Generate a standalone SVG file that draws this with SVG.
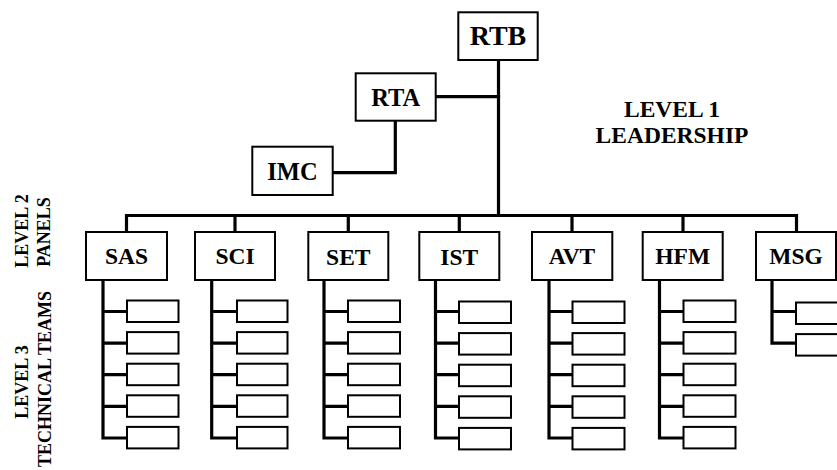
<svg xmlns="http://www.w3.org/2000/svg" width="837" height="470" viewBox="0 0 837 470">
<style>
.box{fill:#fff;stroke:#000;stroke-width:2}
.tb{fill:#fff;stroke:#000;stroke-width:2}
.ln{fill:none;stroke:#000;stroke-width:3.2;stroke-linejoin:miter;stroke-linecap:square}
text{font-family:"Liberation Serif","Times New Roman",serif;font-weight:bold;fill:#000;text-anchor:middle}
.lab{font-size:23.5px}
.side{font-size:18px}
</style>
<rect width="837" height="470" fill="#fff"/>
<g id="connectors">
<path class="ln" d="M498.5,60 V215.5"/>
<path class="ln" d="M435.7,96.7 H498.5"/>
<path class="ln" d="M332.7,172.7 H395.3 V120.7"/>
<path class="ln" d="M126.5,232 V215.5 H796.5 V232"/>
<path class="ln" d="M235,215.5 V232 M348.3,215.5 V232 M459.3,215.5 V232 M572,215.5 V232 M683,215.5 V232"/>
<path class="ln" d="M103,280 V438 H127 M103,311.5 H127 M103,343.1 H127 M103,374.7 H127 M103,406.3 H127"/>
<path class="ln" d="M211.7,280 V438 H237 M211.7,311.5 H237 M211.7,343.1 H237 M211.7,374.7 H237 M211.7,406.3 H237"/>
<path class="ln" d="M324,280 V438 H348 M324,311.5 H348 M324,343.1 H348 M324,374.7 H348 M324,406.3 H348"/>
<path class="ln" d="M435.5,280 V438 H459 M435.5,311.5 H459 M435.5,343.1 H459 M435.5,374.7 H459 M435.5,406.3 H459"/>
<path class="ln" d="M549,280 V438 H572.5 M549,311.5 H572.5 M549,343.1 H572.5 M549,374.7 H572.5 M549,406.3 H572.5"/>
<path class="ln" d="M659.5,280 V438 H683.5 M659.5,311.5 H683.5 M659.5,343.1 H683.5 M659.5,374.7 H683.5 M659.5,406.3 H683.5"/>
<path class="ln" d="M772,280 V343.1 H796 M772,311.5 H796"/>
</g>
<g id="RTB"><rect class="box" x="458.3" y="12.3" width="79.4" height="47.7"/><text x="498" y="45" style="font-size:28px">RTB</text></g>
<g id="RTA"><rect class="box" x="355.7" y="73.3" width="80" height="47.4"/><text class="lab" x="395.7" y="106" style="font-size:24.5px">RTA</text></g>
<g id="IMC"><rect class="box" x="252.3" y="146.7" width="80.4" height="48.3"/><text class="lab" x="292.5" y="180" style="font-size:24.5px">IMC</text></g>
<g id="level1"><text class="lab" x="672" y="116.7">LEVEL 1</text><text class="lab" x="672" y="143.3">LEADERSHIP</text></g>
<g id="level2"><text class="side" transform="translate(27.5,231) rotate(-90)">LEVEL 2</text><text class="side" transform="translate(50,232) rotate(-90)">PANELS</text></g>
<g id="level3"><text class="side" transform="translate(28,382) rotate(-90)">LEVEL 3</text><text class="side" transform="translate(50.5,379) rotate(-90)">TECHNICAL TEAMS</text></g>
<g id="SAS"><rect class="box" x="86" y="232" width="81" height="48"/><text class="lab" x="126.5" y="264">SAS</text>
<rect class="tb" x="127" y="300.5" width="51.5" height="21.5"/><rect class="tb" x="127" y="332.1" width="51.5" height="21.5"/><rect class="tb" x="127" y="363.7" width="51.5" height="21.5"/><rect class="tb" x="127" y="395.3" width="51.5" height="21.5"/><rect class="tb" x="127" y="426.9" width="51.5" height="21.5"/></g>
<g id="SCI"><rect class="box" x="195" y="232" width="80" height="48"/><text class="lab" x="235" y="264">SCI</text>
<rect class="tb" x="237" y="300.5" width="50.5" height="21.5"/><rect class="tb" x="237" y="332.1" width="50.5" height="21.5"/><rect class="tb" x="237" y="363.7" width="50.5" height="21.5"/><rect class="tb" x="237" y="395.3" width="50.5" height="21.5"/><rect class="tb" x="237" y="426.9" width="50.5" height="21.5"/></g>
<g id="SET"><rect class="box" x="308.3" y="232" width="80" height="48"/><text class="lab" x="348.3" y="265">SET</text>
<rect class="tb" x="348" y="300.5" width="52" height="21.5"/><rect class="tb" x="348" y="332.1" width="52" height="21.5"/><rect class="tb" x="348" y="363.7" width="52" height="21.5"/><rect class="tb" x="348" y="395.3" width="52" height="21.5"/><rect class="tb" x="348" y="426.9" width="52" height="21.5"/></g>
<g id="IST"><rect class="box" x="419.3" y="232" width="80" height="48"/><text class="lab" x="459.3" y="265">IST</text>
<rect class="tb" x="459" y="301.5" width="52" height="21.5"/><rect class="tb" x="459" y="333.1" width="52" height="21.5"/><rect class="tb" x="459" y="364.7" width="52" height="21.5"/><rect class="tb" x="459" y="396.3" width="52" height="21.5"/><rect class="tb" x="459" y="427.9" width="52" height="21.5"/></g>
<g id="AVT"><rect class="box" x="532" y="232" width="80.3" height="48"/><text class="lab" x="572" y="263.5">AVT</text>
<rect class="tb" x="572.5" y="301.5" width="52" height="21.5"/><rect class="tb" x="572.5" y="333.1" width="52" height="21.5"/><rect class="tb" x="572.5" y="364.7" width="52" height="21.5"/><rect class="tb" x="572.5" y="396.3" width="52" height="21.5"/><rect class="tb" x="572.5" y="427.9" width="52" height="21.5"/></g>
<g id="HFM"><rect class="box" x="642.7" y="232" width="80" height="48"/><text class="lab" x="682.7" y="263.5">HFM</text>
<rect class="tb" x="683.5" y="300.5" width="52" height="21.5"/><rect class="tb" x="683.5" y="332.1" width="52" height="21.5"/><rect class="tb" x="683.5" y="363.7" width="52" height="21.5"/><rect class="tb" x="683.5" y="395.3" width="52" height="21.5"/><rect class="tb" x="683.5" y="426.9" width="52" height="21.5"/></g>
<g id="MSG"><rect class="box" x="756" y="232" width="80" height="48"/><text class="lab" x="796" y="263.5">MSG</text>
<rect class="tb" x="796" y="302.5" width="52" height="21.5"/><rect class="tb" x="796" y="334.1" width="52" height="21.5"/></g>
</svg>
